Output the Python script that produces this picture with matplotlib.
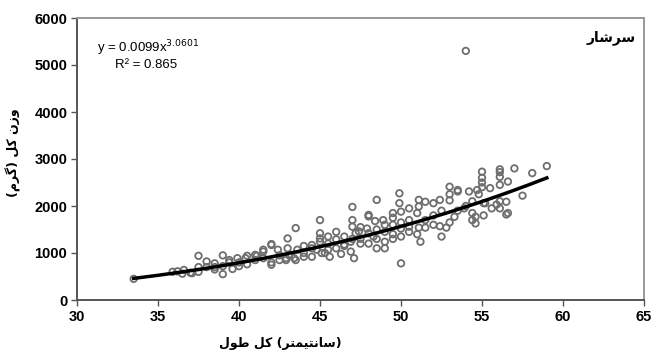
import matplotlib
matplotlib.use("Agg")
import matplotlib.pyplot as plt
import numpy as np

# ---- data ----
length_cm = [33.5, 35.9, 36.2, 36.6, 37.0, 37.1, 37.5, 37.5, 37.5, 38.0, 38.0, 38.5, 38.5, 39.0, 39.0,
             39.4, 39.4, 39.6, 39.9, 40.0, 40.4, 40.5, 40.5, 41.0, 41.1, 41.5, 41.5, 41.5, 42.0, 42.0,
             42.0, 42.0, 42.4, 42.5, 42.9, 42.9, 43.0, 43.1, 43.5, 43.5, 43.6, 43.4, 44.0, 44.5, 44.5,
             44.8, 45.0, 45.0, 45.0, 45.0, 45.1, 45.3, 45.5, 45.6, 46.0, 46.0, 46.3, 46.5, 46.9, 46.9,
             47.0, 47.0, 47.0, 47.1, 47.2, 47.4, 47.5, 47.9, 48.0, 48.0, 48.0, 48.3, 48.4, 48.5, 48.5,
             48.9, 49.0, 49.0, 49.5, 49.5, 49.5, 49.9, 49.9, 50.0, 50.0, 50.0, 50.0, 50.5, 50.5, 51.1,
             51.1, 51.1, 51.2, 51.5, 51.5, 52.0, 52.0, 52.4, 52.4, 52.8, 53.0, 53.0, 53.0, 53.3, 53.5,
             53.5, 53.9, 54.0, 54.2, 54.4, 54.4, 54.4, 54.6, 54.6, 54.7, 54.8, 55.0, 55.0, 55.0, 55.0,
             55.1, 55.1, 55.2, 55.5, 55.6, 55.9, 56.1, 56.1, 56.1, 56.1, 56.1, 56.1, 56.5, 56.5, 56.6,
             56.6, 57.0, 57.5, 58.1, 59.0,
             44.0, 44.5, 45.5, 46.0, 46.5, 47.0, 47.5, 48.0, 48.5, 49.0, 49.0, 49.5, 50.0, 50.5, 51.0,
             51.5, 52.0, 52.5, 53.0, 53.5, 54.0, 52.5, 51.0, 50.5, 49.5, 48.5, 47.5, 46.5, 45.5, 44.0,
             43.0, 42.5, 41.0, 40.0, 39.0, 38.5, 36.5]
weight_g = [450, 600, 610, 640, 580, 570, 600, 940, 700, 700, 820, 780, 650, 550, 950,
            800, 850, 660, 890, 720, 890, 760, 940, 960, 940, 1030, 890, 1070, 1170, 750,
            1190, 800, 1070, 850, 890, 850, 1310, 950, 1530, 850, 1070, 890, 920, 920, 1170,
            1070, 1700, 1420, 1310, 1240, 1000, 1000, 1070, 920, 1450, 1290, 980, 1180, 1240, 1030,
            1980, 1700, 1560, 890, 1420, 1460, 1200, 1520, 1780, 1420, 1810, 1350, 1680, 2130, 1100,
            1700, 1240, 1100, 1850, 1600, 1300, 2270, 2060, 1880, 1520, 1350, 780, 1560, 1700, 2130,
            1990, 1540, 1240, 2090, 1540, 2060, 1600, 2130, 1570, 1540, 2410, 2250, 2120, 1770, 2340,
            2310, 1950, 5300, 2310, 1850, 1700, 2100, 1770, 1630, 2340, 2250, 2730, 2600, 2500, 2400,
            2060, 1800, 2060, 2380, 1950, 2030, 2780, 2720, 2620, 2450, 2100, 1950, 2090, 1820, 2520,
            1850, 2800, 2220, 2700, 2850,
            1000, 1100, 1200, 1100, 1350, 1300, 1300, 1200, 1500, 1450, 1600, 1400, 1650, 1450, 1400,
            1700, 1800, 1900, 1650, 1900, 2000, 1350, 1850, 1950, 1750, 1300, 1550, 1150, 1350, 1150,
            1100, 950, 850, 800, 720, 700, 560]

fit_a = 0.0099
fit_b = 3.0601
fit_x_range = [33.5, 59.0]
x_ticks = [30, 35, 40, 45, 50, 55, 60, 65]
y_ticks = [0, 1000, 2000, 3000, 4000, 5000, 6000]

# Persian labels (presentation forms, visual order)
x_label = "\uFEDD\uFEEE\uFEC3 \uFEDE\uFB90 (\uFEAE\uFE98\uFEE4\uFBFF\uFE98\uFEE7\uFE8E\uFEB3)"
y_label = "(\uFEE1\uFEAE\uFB94) \uFEDE\uFB90 \uFEE5\uFEAF\uFEED"
panel_label = "\uFEAD\uFE8E\uFEB7\uFEAE\uFEB3"

plt.rcParams['font.family'] = ['Liberation Sans', 'DejaVu Sans']

fig = plt.figure(figsize=(6.56, 3.58), dpi=100)
ax = fig.add_axes([77/656, 1-300/358, (644-77)/656, (300-18)/358])

ax.scatter(length_cm, weight_g, s=22, facecolors='none', edgecolors='#6e6e6e',
           linewidths=1.3, zorder=2)

xf = np.linspace(fit_x_range[0], fit_x_range[1], 200)
ax.plot(xf, fit_a * xf ** fit_b, color='black', lw=2.5, zorder=3)

ax.set_xlim(30, 65)
ax.set_ylim(0, 6000)
ax.set_xticks(x_ticks)
ax.set_yticks(y_ticks)
ax.tick_params(direction='out', length=4, width=1, color='#555555', labelsize=10.5, pad=3)
for lab in ax.get_xticklabels() + ax.get_yticklabels():
    lab.set_fontweight('bold')
for s in ['left', 'bottom']:
    ax.spines[s].set_color('#555555')
    ax.spines[s].set_linewidth(1.4)
for s in ['top', 'right']:
    ax.spines[s].set_color('#999999')
    ax.spines[s].set_linewidth(1.4)

ax.text(0.035, 0.894, r"y = 0.0099x$^{3.0601}$", transform=ax.transAxes, fontsize=9.5,
        ha='left', va='center')
ax.text(0.067, 0.833, "R² = 0.865", transform=ax.transAxes, fontsize=9.5,
        ha='left', va='center')

ax.text(0.985, 0.93, panel_label, transform=ax.transAxes, fontsize=10, fontweight='bold',
        ha='right', va='center', family=['DejaVu Sans'])

fig.text(280/656, 1-343/358, x_label, ha='center', va='center', fontsize=9,
         fontweight='bold', family=['DejaVu Sans'])
fig.text(13/656, 1-153/358, y_label, ha='center', va='center', fontsize=9,
         fontweight='bold', rotation=90, family=['DejaVu Sans'])

fig.savefig("out.png", dpi=100)
